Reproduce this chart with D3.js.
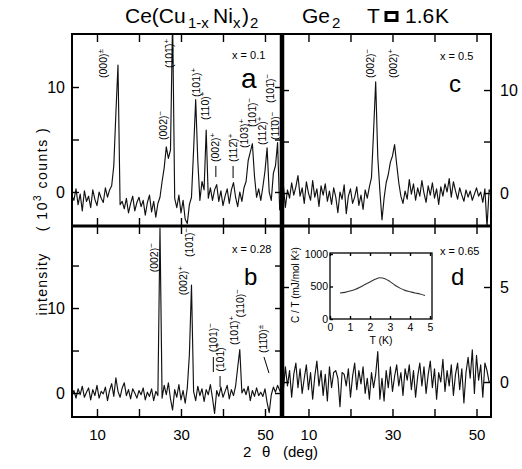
<!DOCTYPE html>
<html>
<head>
<meta charset="utf-8">
<script src="https://cdn.jsdelivr.net/npm/d3@7"></script>
<style>
html,body{margin:0;padding:0;background:#fff;}
svg{display:block;}
</style>
</head>
<body>
<svg id="chart" width="522" height="469"></svg>
<script>
// ---------------- DATA ----------------
// scan angle 2θ (deg), common to all four scans
const twoTheta = [3.5,4,4.5,5,5.5,6,6.5,7,7.5,8,
 8.5,9,9.5,10,10.5,11,11.5,12,12.5,13,
 13.5,14,14.5,15,15.5,16,16.5,17,17.5,18,
 18.5,19,19.5,20,20.5,21,21.5,22,22.5,23,
 23.5,24,24.5,25,25.5,26,26.5,27,27.5,28,
 28.5,29,29.5,30,30.5,31,31.5,32,32.5,33,
 33.5,34,34.5,35,35.5,36,36.5,37,37.5,38,
 38.5,39,39.5,40,40.5,41,41.5,42,42.5,43,
 43.5,44,44.5,45,45.5,46,46.5,47,47.5,48,
 48.5,49,49.5,50,50.5,51,51.5,52,52.5,53,
 53.5,54];

// intensity (10^3 counts) — panel a, x = 0.1
const countsA = [-0.5,-0.3,-0.8,0.3,-1.2,-0.2,-1.8,0.1,-0.9,-0.4,
 -1.5,0.2,-0.7,-1.3,0.0,-0.6,-1.0,0.4,-0.5,0.2,
 0.6,2.5,7.5,12.1,-1.2,-0.9,-1.6,-0.6,-2.0,-1.1,
 -0.4,-1.8,-1.0,-0.5,-1.4,-0.8,-2.2,-1.0,-0.3,-1.9,
 -0.9,-2.4,-1.1,-0.5,1.0,2.3,4.3,3.2,4.0,16.5,
 -0.6,-1.5,-0.3,-2.0,-0.8,-2.6,-3.0,-1.2,-0.5,4.0,
 8.8,3.0,-0.8,1.0,0.2,5.9,-0.6,0.4,-0.8,0.2,
 0.7,-0.9,0.1,-1.3,-0.4,0.3,-1.1,0.2,0.9,-0.5,
 -1.4,0.0,-0.9,0.4,1.0,3.0,3.8,4.6,1.5,-0.5,
 0.3,-0.8,0.5,2.0,4.2,0.0,-0.8,1.8,2.5,4.7,
 -1.7,-0.4];

// panel b, x = 0.28
const countsB = [0.2,-0.4,0.3,-0.6,0.5,-0.2,0.8,-0.5,0.1,0.6,
 -0.8,0.4,-0.3,0.9,-0.6,0.2,-0.1,0.7,-0.9,0.3,
 1.1,-0.4,1.8,0.2,-0.5,0.6,1.2,-0.3,0.4,-0.7,
 0.5,0.0,-0.6,0.3,-0.2,0.6,-0.8,0.1,-0.4,0.5,
 -0.9,0.2,-0.3,19.4,-0.6,0.9,-0.2,1.2,-0.7,-2.0,
 0.4,-0.5,1.0,-0.8,0.3,-1.2,0.6,4.5,12.7,0.2,
 -0.9,0.8,-0.3,0.5,-1.0,0.4,-0.2,1.0,-0.6,-2.4,
 0.3,-0.4,0.7,-0.5,0.2,0.9,-0.7,0.4,-0.3,0.8,
 3.0,5.1,0.0,0.5,-0.2,0.8,-0.9,0.3,-0.4,0.6,
 -0.3,0.1,-0.4,0.5,-1.1,-2.3,-0.2,0.7,0.1,0.9,
 0.3,-0.2];

// panel c, x = 0.5
const countsC = [-0.8,0.9,-1.4,0.3,-0.5,1.0,-0.2,0.6,1.7,-0.3,
 0.5,-1.0,1.1,0.0,-0.7,1.2,-0.4,0.4,-1.3,0.7,
 -0.2,0.9,-0.8,0.2,-1.1,0.5,-0.4,-1.9,0.1,-0.6,
 0.8,-2.0,-0.3,0.4,-1.0,-0.4,0.6,-1.2,-0.2,-1.6,
 0.3,-0.5,0.6,1.5,6.0,10.8,3.5,0.2,-2.6,-0.5,
 1.0,1.8,3.0,3.6,4.7,2.8,1.0,-0.3,-1.0,0.2,
 -0.6,1.3,-0.1,0.9,-0.7,0.5,-0.3,1.2,0.0,-0.9,
 0.7,-0.2,1.0,-0.5,0.4,-1.1,0.6,-0.3,0.9,0.1,
 1.4,-0.4,1.1,0.2,-0.6,0.5,-0.2,-0.8,0.3,-0.4,
 0.2,-0.7,-0.1,0.5,-0.3,0.1,-0.9,0.4,-3.3,0.3,
 0.0,0.0];

// panel d, x = 0.65
const countsD = [0.3,-0.5,0.8,-0.2,0.6,-0.8,0.4,1.0,-0.3,0.7,
 -0.6,0.2,0.9,-0.4,0.5,-0.9,0.3,1.1,-0.2,0.6,
 -0.7,0.4,-1.0,0.8,-0.3,0.5,0.6,0.2,-1.3,0.5,
 0.4,-0.2,0.7,-0.8,0.3,1.0,-0.4,0.6,-0.1,0.8,
 -0.6,0.2,-0.9,0.5,-0.3,0.4,1.6,-0.9,0.2,-1.0,
 0.6,-0.3,0.8,-0.5,0.3,0.9,-0.2,0.5,-0.7,0.7,
 0.1,0.9,-0.4,0.6,-0.8,0.3,1.0,-0.2,0.8,-0.6,
 0.4,1.1,-0.3,0.7,-0.9,0.5,0.0,1.2,-0.5,0.6,
 -0.2,0.9,-0.7,0.4,1.0,-0.4,0.7,-1.1,0.5,1.3,
 0.2,1.7,-0.6,1.4,0.1,0.9,-0.8,1.0,0.6,0.0,
 0.0,0.0];

// reflection labels: [2θ, intensity where label starts, indices, sign]
const labelsA = [
 [11.55,10.86,"(000)","±"],
 [27.15,11.8,"(101\u0304)","+"],
 [25.8,4.95,"(002)","\u2212"],
 [33.7,9.05,"(101)","+"],
 [35.8,6.86,"(110)","+"],
 [38.3,2.86,"(002)","+"],
 [42.4,2.86,"(112\u0304)","+"],
 [45.2,4.19,"(103)","+"],
 [47.1,6.19,"(101\u0304)","\u2212"],
 [49.3,4.48,"(112)","+"],
 [51.2,8.48,"(101\u0304)","\u2212"],
 [52.4,4.95,"(11\u03040)","\u2212"]
];
const labelsB = [
 [23.6,14.2,"(002)","\u2212"],
 [30.5,11.5,"(002)","+"],
 [31.9,16.0,"(101\u0304)","\u2212"],
 [37.7,4.8,"(101)","\u2212"],
 [39.3,2.5,"(101)","+"],
 [42.6,5.65,"(101\u0304)","+"],
 [44.05,8.9,"(110)","\u2212"],
 [49.6,4.7,"(11\u03040)","±"]
];
const labelsC = [
 [24.65,11.17,"(002)","\u2212"],
 [30.1,11.17,"(002)","+"]
];
const labelsD = [];
// leader lines: [2θ1, I1, 2θ2, I2]
const leadersA = [[38.3,2.48,38.3,1.43],[42.4,2.48,42.4,1.33]];
const leadersB = [[37.7,4.24,37.7,2.47],[39.3,2.0,39.3,0.7],[49.76,4.24,50.95,2.35]];

const compositions = ["0.1","0.28","0.5","0.65"];
const panelLetters = ["a","b","c","d"];
const xTickValues = [10,20,30,40,50];
const xTickLabels = [10,30,50];
const yTicksA = [0,5,10], yLabelsA = [0,10];
const yTicksB = [0,5,10,15], yLabelsB = [0,10];
const yTicksC = [0,5,10], yLabelsC = [0,10];
const yTicksD = [0,5], yLabelsD = [0,5];

// inset: specific heat C/T (mJ/mol K^2) vs T (K)
const insetT  = [0.5,0.75,1.0,1.25,1.5,1.75,2.0,2.25,2.5,2.75,3.0,3.25,3.5,3.75,4.0,4.25,4.5,4.75];
const insetCT = [400,410,430,455,490,530,570,610,635,620,575,520,475,440,420,400,385,360];
const insetXTicks = [0,1,2,3,4,5];
const insetYTicks = [0,500,1000];

// ---------------- DRAWING ----------------
const FONT = "'Liberation Sans', Arial, Helvetica, sans-serif";
const svg = d3.select("#chart");
svg.append("rect").attr("width",522).attr("height",469).attr("fill","#fff");

const L=72, M=282, R=491, T=34, H=226, B=417;
const xLeft = d3.scaleLinear().domain([4.05,54.05]).range([L,M]);
const xRight = d3.scaleLinear().domain([3.7,53.45]).range([M,R]);

const panels = [
 {id:"a", x:xLeft, y:d3.scaleLinear().domain([-3.24,15.05]).range([H,T]), counts:countsA, labels:labelsA, leaders:leadersA,
  letter:panelLetters[0], comp:compositions[0], yTicks:yTicksA, yLabels:yLabelsA, side:"left", x0:L,x1:M,y0:T,y1:H, bottom:false,
  letterPos:[241,88], letterSize:28, compPos:[232,59]},
 {id:"b", x:xLeft, y:d3.scaleLinear().domain([-2.82,19.65]).range([B,H]), counts:countsB, labels:labelsB, leaders:leadersB,
  letter:panelLetters[1], comp:compositions[1], yTicks:yTicksB, yLabels:yLabelsB, side:"left", x0:L,x1:M,y0:H,y1:B, bottom:true,
  letterPos:[244,285], letterSize:24, compPos:[232,253]},
 {id:"c", x:xRight, y:d3.scaleLinear().domain([-3.2,15.44]).range([H,T]), counts:countsC, labels:labelsC, leaders:[],
  letter:panelLetters[2], comp:compositions[2], yTicks:yTicksC, yLabels:yLabelsC, side:"right", x0:M,x1:R,y0:T,y1:H, bottom:false,
  letterPos:[449,92], letterSize:24, compPos:[440,60]},
 {id:"d", x:xRight, y:d3.scaleLinear().domain([-1.84,8.21]).range([B,H]), counts:countsD, labels:labelsD, leaders:[],
  letter:panelLetters[3], comp:compositions[3], yTicks:yTicksD, yLabels:yLabelsD, side:"right", x0:M,x1:R,y0:H,y1:B, bottom:true,
  letterPos:[451,285], letterSize:24, compPos:[440,255]}
];

function styleAxis(g, fs){
  g.select(".domain").remove();
  g.selectAll(".tick line").attr("stroke","#000").attr("stroke-width",1.4);
  g.selectAll(".tick text").attr("fill","#000").attr("font-family",FONT).attr("font-size",fs);
}

panels.forEach(p => {
  const clipId = "clip-"+p.id;
  svg.append("clipPath").attr("id",clipId).append("rect")
    .attr("x",p.x0).attr("y",p.y0).attr("width",p.x1-p.x0).attr("height",p.y1-p.y0);

  const line = d3.line().x((d,i)=>p.x(twoTheta[i])).y(d=>p.y(d));
  svg.append("path").datum(p.counts).attr("clip-path",`url(#${clipId})`)
    .attr("d",line).attr("fill","none").attr("stroke","#111").attr("stroke-width",1.15).attr("stroke-linejoin","round");

  // x ticks (inward) top & bottom
  svg.append("g").attr("transform",`translate(0,${p.y0})`)
    .call(d3.axisTop(p.x).tickValues(xTickValues).tickSize(-8).tickFormat(""))
    .call(g=>styleAxis(g,15));
  svg.append("g").attr("transform",`translate(0,${p.y1})`)
    .call(d3.axisBottom(p.x).tickValues(xTickValues).tickSize(-8).tickPadding(12)
      .tickFormat(d => (p.bottom && xTickLabels.includes(d)) ? d : ""))
    .call(g=>styleAxis(g,15));

  // y ticks (inward) left & right
  svg.append("g").attr("transform",`translate(${p.x0},0)`)
    .call(d3.axisLeft(p.y).tickValues(p.yTicks).tickSize(-7).tickPadding(7)
      .tickFormat(d => (p.side==="left" && p.yLabels.includes(d)) ? d : ""))
    .call(g=>styleAxis(g,16));
  svg.append("g").attr("transform",`translate(${p.x1},0)`)
    .call(d3.axisRight(p.y).tickValues(p.yTicks).tickSize(-7).tickPadding(9)
      .tickFormat(d => (p.side==="right" && p.yLabels.includes(d)) ? d : ""))
    .call(g=>styleAxis(g,16));

  // reflection labels
  p.labels.forEach(l => {
    const px = p.x(l[0]), py = p.y(l[1]);
    const t = svg.append("text").attr("transform",`translate(${px+3.6},${py}) rotate(-90)`)
      .attr("font-family",FONT).attr("font-size",10.5).attr("fill","#000");
    t.append("tspan").text(l[2]);
    t.append("tspan").attr("dy",-4).attr("font-size",8).text(l[3]);
  });
  p.leaders.forEach(s => {
    svg.append("line").attr("x1",p.x(s[0])).attr("y1",p.y(s[1])).attr("x2",p.x(s[2])).attr("y2",p.y(s[3]))
      .attr("stroke","#000").attr("stroke-width",1);
  });

  // panel letter and composition
  svg.append("text").attr("x",p.letterPos[0]).attr("y",p.letterPos[1]).attr("font-family",FONT)
    .attr("font-size",p.letterSize).attr("fill","#000").text(p.letter);
  svg.append("text").attr("x",p.compPos[0]).attr("y",p.compPos[1]).attr("font-family",FONT)
    .attr("font-size",11).attr("fill","#000").text("x = "+p.comp);
});

// inset
const xi = d3.scaleLinear().domain([0,5.1]).range([330,432]);
const yi = d3.scaleLinear().domain([0,1015]).range([319,253]);
svg.append("rect").attr("x",330).attr("y",253).attr("width",102).attr("height",66)
  .attr("fill","none").attr("stroke","#000").attr("stroke-width",1.3);
svg.append("g").attr("transform","translate(0,319)")
  .call(d3.axisBottom(xi).tickValues(insetXTicks).tickSize(-3).tickPadding(5).tickFormat(d3.format("d")))
  .call(g=>styleAxis(g,10.5));
svg.append("g").attr("transform","translate(0,253)")
  .call(d3.axisTop(xi).tickValues(insetXTicks).tickSize(-3).tickFormat(""))
  .call(g=>styleAxis(g,10.5));
svg.append("g").attr("transform","translate(330,0)")
  .call(d3.axisLeft(yi).tickValues(insetYTicks).tickSize(-3).tickPadding(2).tickFormat(d3.format("d")))
  .call(g=>styleAxis(g,10.5));
svg.append("path").datum(insetCT)
  .attr("d", d3.line().curve(d3.curveMonotoneX).x((d,i)=>xi(insetT[i])).y(d=>yi(d)))
  .attr("fill","none").attr("stroke","#333").attr("stroke-width",1.1);
svg.append("text").attr("x",381).attr("y",344).attr("text-anchor","middle").attr("font-family",FONT)
  .attr("font-size",10.5).text("T (K)");
svg.append("text").attr("transform","translate(299,285) rotate(-90)").attr("text-anchor","middle")
  .attr("font-family",FONT).attr("font-size",10).text("C / T (mJ/mol K\u00B2)");

// frame
svg.append("rect").attr("x",L).attr("y",T).attr("width",R-L).attr("height",B-T)
  .attr("fill","none").attr("stroke","#000").attr("stroke-width",2);
svg.append("line").attr("x1",L).attr("x2",R).attr("y1",H).attr("y2",H).attr("stroke","#000").attr("stroke-width",3);
svg.append("line").attr("x1",M).attr("x2",M).attr("y1",T).attr("y2",B).attr("stroke","#000").attr("stroke-width",4.5);

// title
const title = svg.append("text").attr("y",23).attr("font-family",FONT).attr("font-size",21).attr("fill","#000");
title.append("tspan").attr("x",125).text("Ce(Cu");
title.append("tspan").attr("x",188).attr("dy",5).attr("font-size",15).text("1-x");
title.append("tspan").attr("x",213).attr("dy",-5).text("Ni");
title.append("tspan").attr("x",233).attr("dy",5).attr("font-size",15).text("x");
title.append("tspan").attr("x",242).attr("dy",-5).text(")");
title.append("tspan").attr("x",250).attr("dy",5).attr("font-size",15).text("2");
title.append("tspan").attr("x",302).attr("dy",-5).text("Ge");
title.append("tspan").attr("x",332).attr("dy",5).attr("font-size",15).text("2");
title.append("tspan").attr("x",367).attr("dy",-5).text("T");
title.append("tspan").attr("x",405).text("1.6");
title.append("tspan").attr("x",435).text("K");
svg.append("rect").attr("x",386).attr("y",12.5).attr("width",11).attr("height",8)
  .attr("fill","none").attr("stroke","#000").attr("stroke-width",3);

// axis titles
const xt = svg.append("text").attr("y",457).attr("font-family",FONT).attr("font-size",15).attr("fill","#000");
xt.append("tspan").attr("x",243).text("2");
xt.append("tspan").attr("x",262).text("\u03B8");
xt.append("tspan").attr("x",283).text("(deg)");

svg.append("text").attr("transform","translate(47,284) rotate(-90)").attr("text-anchor","middle")
  .attr("font-family",FONT).attr("font-size",14).attr("letter-spacing",1.3).text("intensity");
const yt = svg.append("text").attr("transform","translate(47,179) rotate(-90)").attr("text-anchor","middle")
  .attr("font-family",FONT).attr("font-size",14).attr("letter-spacing",1.5);
yt.append("tspan").text("( 10");
yt.append("tspan").attr("dy",-6).attr("font-size",10).text("3");
yt.append("tspan").attr("dy",6).text("  counts )");
</script>
</body>
</html>
